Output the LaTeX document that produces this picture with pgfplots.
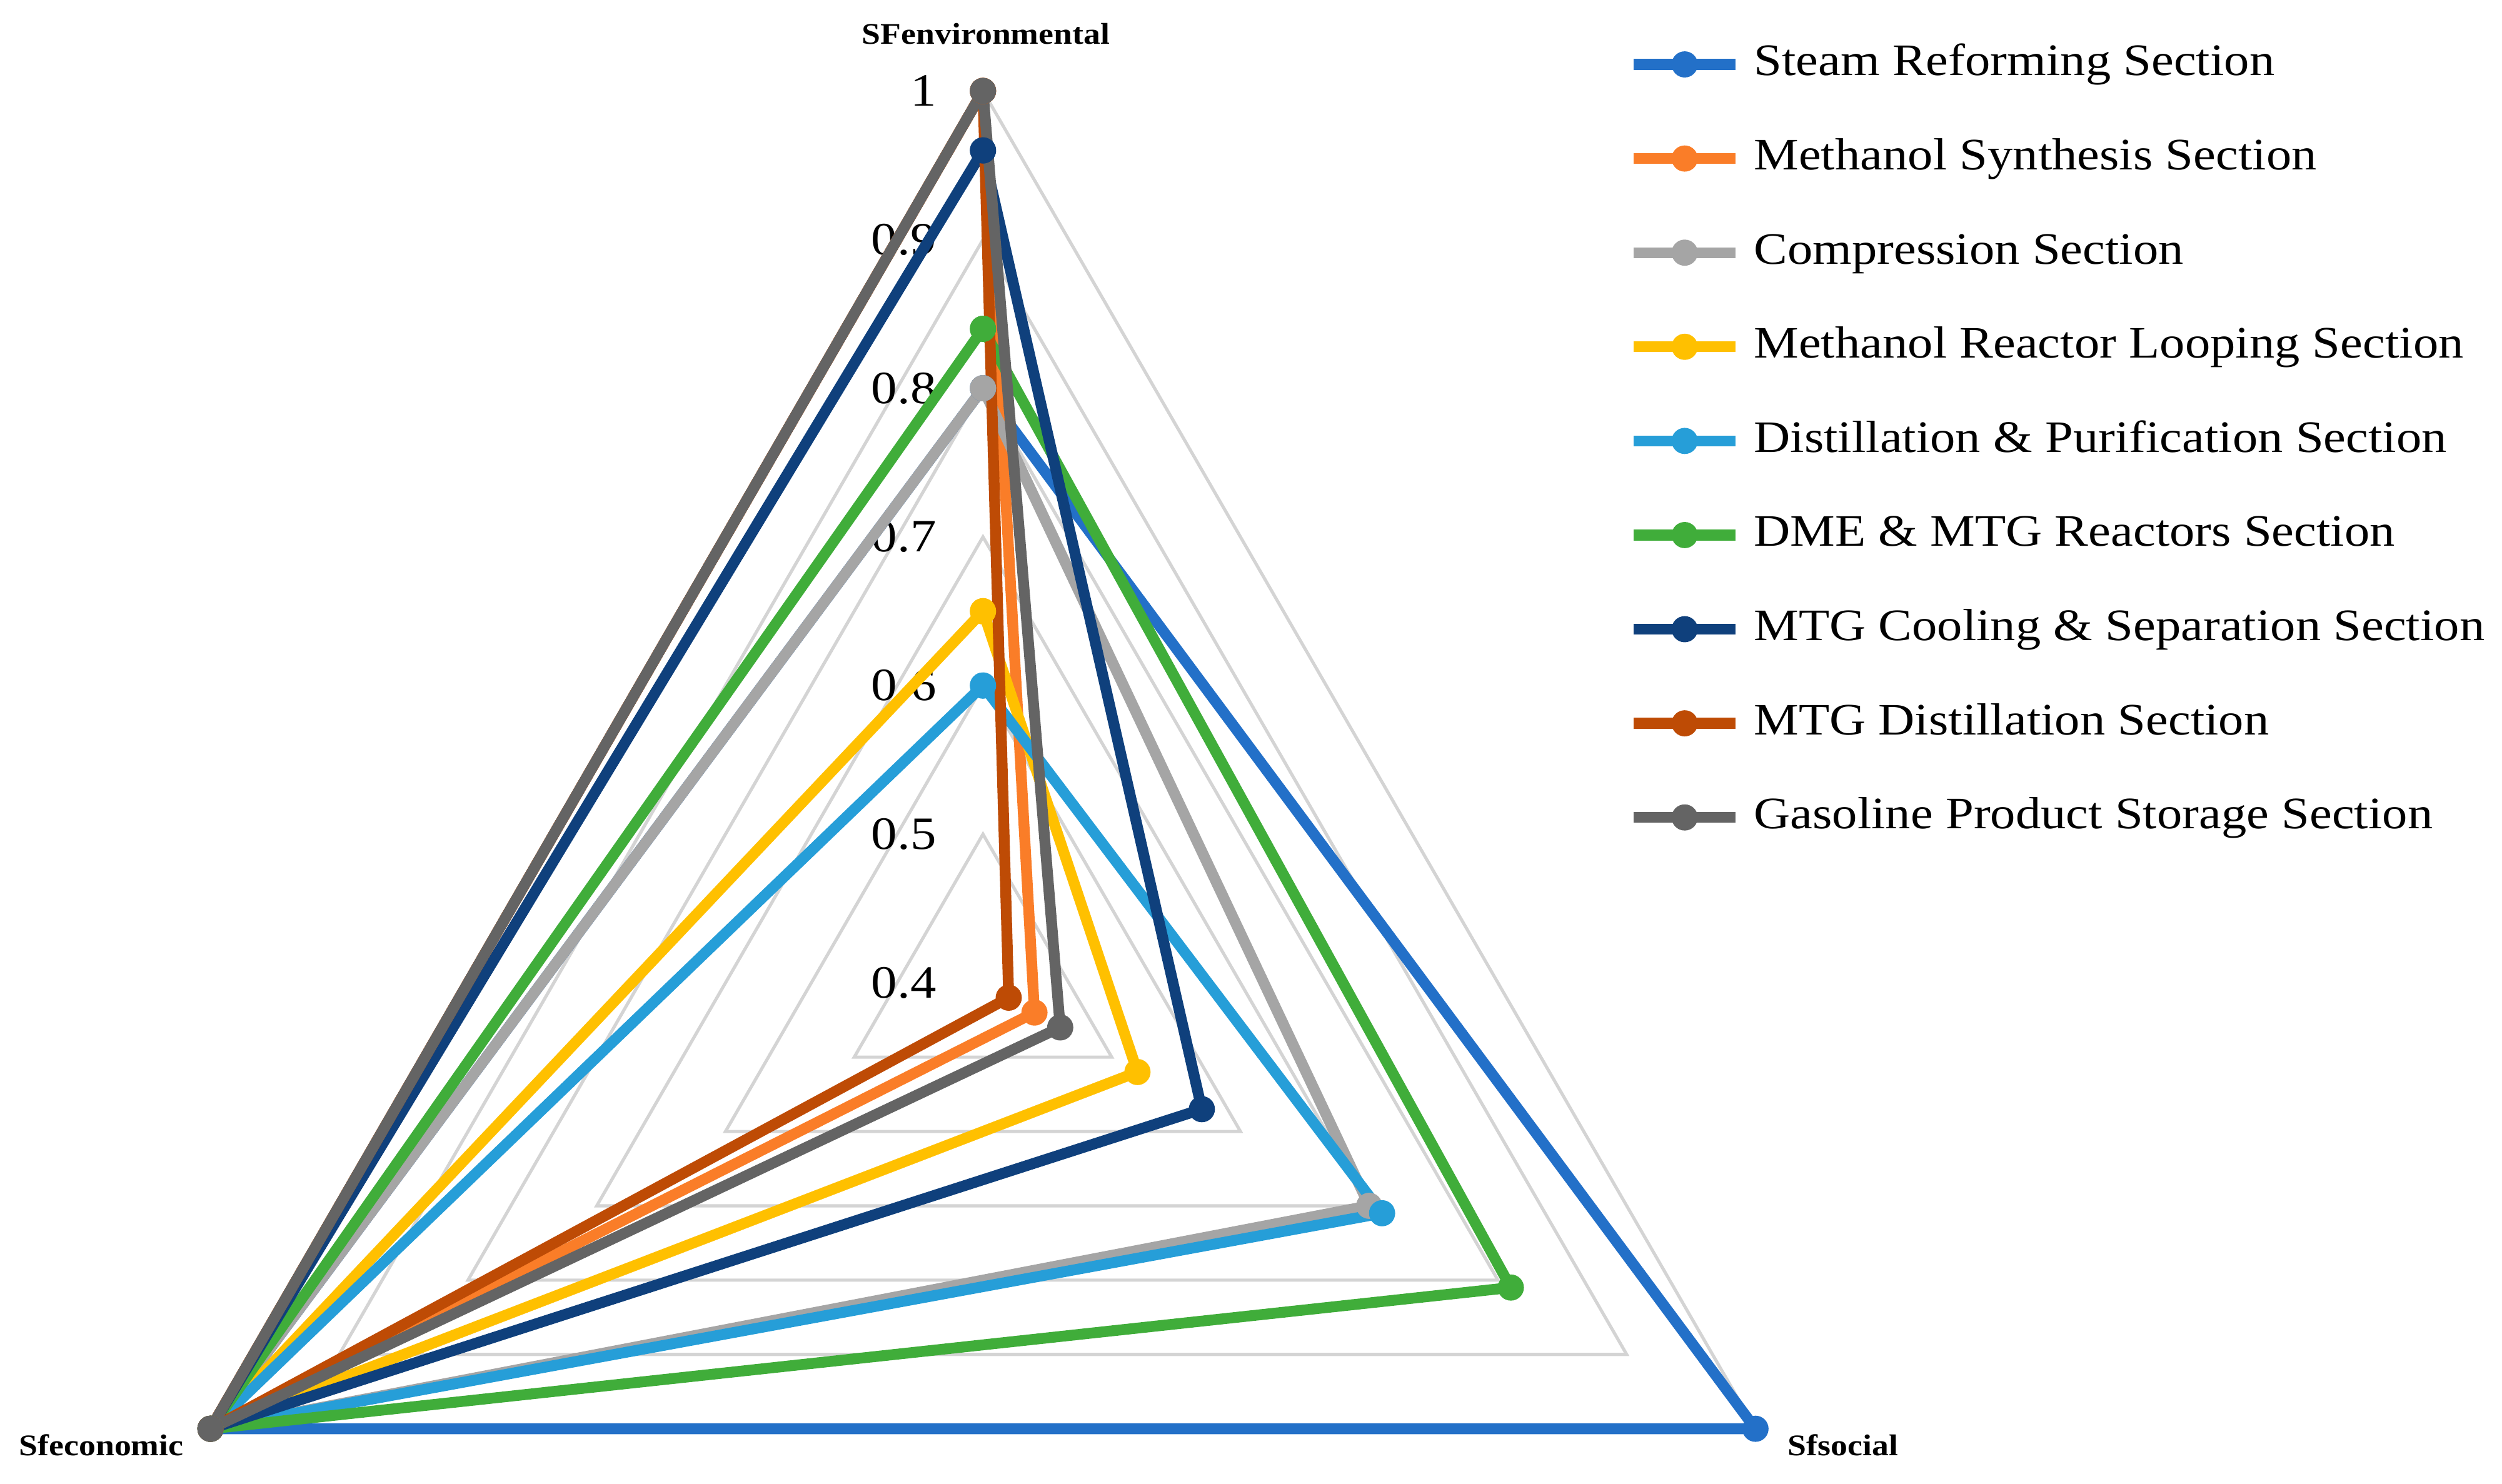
\documentclass[border=0pt]{standalone}
\usepackage{fontspec}
\setmainfont{Liberation Serif}[FakeStretch=1.12]
\usepackage{pgfplots}
\usepackage{pgfplotstable}
\pgfplotsset{compat=1.18}

\definecolor{cSR}{RGB}{35,112,200}
\definecolor{cMS}{RGB}{250,125,40}
\definecolor{cCP}{RGB}{165,165,165}
\definecolor{cML}{RGB}{255,192,0}
\definecolor{cDP}{RGB}{38,158,216}
\definecolor{cDM}{RGB}{64,173,58}
\definecolor{cMC}{RGB}{15,64,124}
\definecolor{cMD}{RGB}{190,75,5}
\definecolor{cGS}{RGB}{100,100,100}
\definecolor{gridc}{RGB}{212,212,212}

% scores per section; ang = direction of the axis (90 env, 330 social, 210 economic)
% first row repeated at the end to close the polygon
\pgfplotstableread{
ang  sr   ms   cp   ml   dp   dm   mc   md   gs
90   0.80 1.00 0.80 0.65 0.60 0.84 0.96 1.00 1.00
330  1.00 0.44 0.70 0.52 0.71 0.81 0.57 0.42 0.46
210  1.00 1.00 1.00 1.00 1.00 1.00 1.00 1.00 1.00
90   0.80 1.00 0.80 0.65 0.60 0.84 0.96 1.00 1.00
}\scores

% radial origin of the chart is 0.4
\newcommand{\radarplot}[3]{%
  \addplot[color=#1, line width=3.4pt, line join=round,
    mark=*, mark size=3.9pt, mark options={solid, fill=#1, line width=0.4pt}]
    table[x expr={(\thisrow{#2}-0.4)*cos(\thisrow{ang})},
          y expr={(\thisrow{#2}-0.4)*sin(\thisrow{ang})}] {\scores};
  \addlegendentry{#3}}

\begin{document}
\begin{tikzpicture}
\begin{axis}[
    scale only axis,
    width=784pt, height=465pt,
    xmin=-0.6612, xmax=1.0218,
    ymin=-0.3370, ymax=0.6612,
    hide axis, clip=false,
    legend cell align=left,
    legend style={at={(rel axis cs:0.6505,0.971)}, anchor=north west,
        draw=none, fill=none, inner sep=0pt,
        font=\fontsize{14.1}{16}\selectfont, row sep=16.5pt,
        nodes={inner sep=0pt, text height=10pt, text depth=3pt},
        /tikz/every odd column/.append style={column sep=4pt}},
    legend image code/.code={%
        \draw[mark repeat=2, mark phase=2, #1]
        plot coordinates {(0pt,0pt) (16pt,0pt) (32pt,0pt)};},
]
\path (rel axis cs:0,0) rectangle (rel axis cs:1,1);

% triangular grid
\pgfplotsinvokeforeach{0.1,0.2,0.3,0.4,0.5,0.6}{
  \draw[gridc, line width=1pt] (axis cs:0,#1) -- (axis cs:{#1*0.8660},{-#1*0.5})
     -- (axis cs:{-#1*0.8660},{-#1*0.5}) -- cycle;
}
% radial tick labels
\pgfplotsinvokeforeach{0.4,0.5,0.6,0.7,0.8,0.9}{
  \node[anchor=east, font=\fontsize{14.5}{16}\selectfont, inner sep=0pt]
     at (axis cs:-0.031,{#1-0.4}) {#1};
}
\node[anchor=east, font=\fontsize{14.5}{16}\selectfont, inner sep=0pt]
   at (axis cs:-0.031,0.6) {1};

% category labels
\node[font=\bfseries\fontsize{9.4}{11}\selectfont] at (axis cs:0.002,0.6386) {SFenvironmental};
\node[font=\bfseries\fontsize{9.4}{11}\selectfont] at (axis cs:-0.593,-0.311) {Sfeconomic};
\node[font=\bfseries\fontsize{9.4}{11}\selectfont] at (axis cs:0.5785,-0.311) {Sfsocial};

\radarplot{cSR}{sr}{Steam Reforming Section}
\radarplot{cMS}{ms}{Methanol Synthesis Section}
\radarplot{cCP}{cp}{Compression Section}
\radarplot{cML}{ml}{Methanol Reactor Looping Section}
\radarplot{cDP}{dp}{Distillation \& Purification Section}
\radarplot{cDM}{dm}{DME \& MTG Reactors Section}
\radarplot{cMC}{mc}{MTG Cooling \& Separation Section}
\radarplot{cMD}{md}{MTG Distillation Section}
\radarplot{cGS}{gs}{Gasoline Product Storage Section}
\end{axis}
\end{tikzpicture}
\end{document}
